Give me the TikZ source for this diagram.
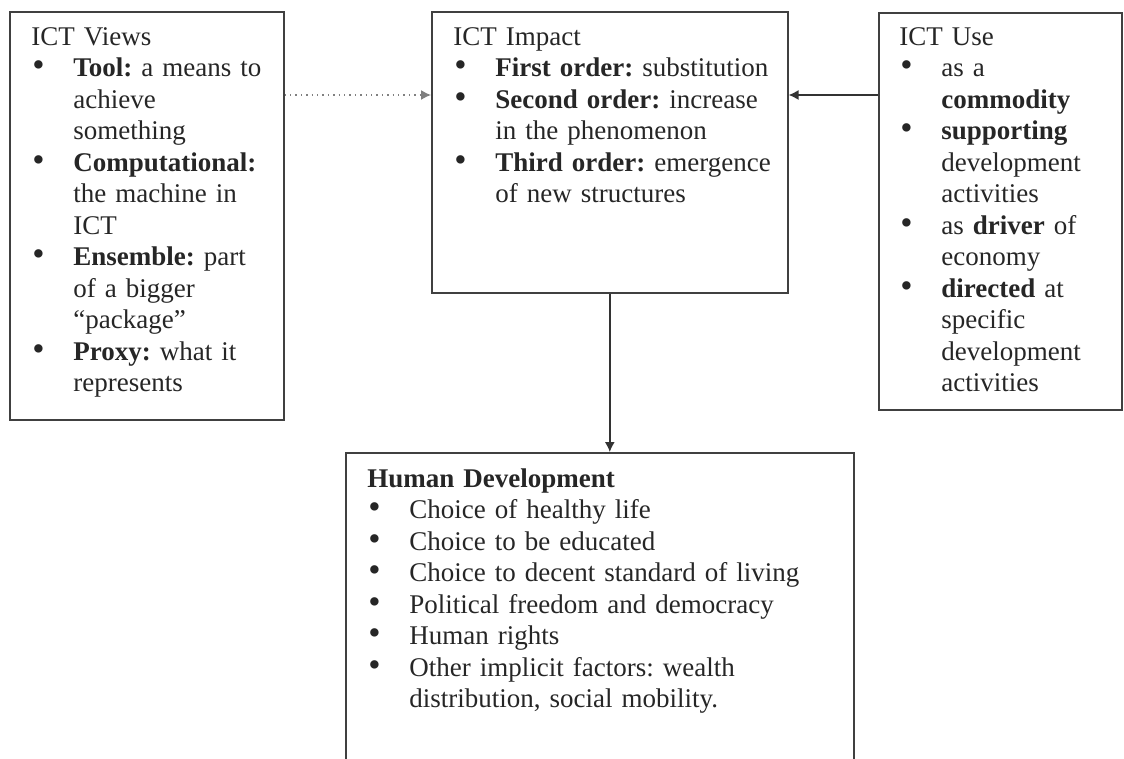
\documentclass[tikz,border=0pt]{standalone}
\usepackage{fontspec}
\setmainfont{Liberation Serif}
\usetikzlibrary{arrows,arrows.meta,positioning}

% bullet line with hanging indent, lines broken by \newline
\newcommand{\bitem}[1]{\par\noindent\hangindent=21pt\hangafter=1\makebox[21pt][l]{\hspace{0.5pt}\scalebox{1.3}{\textbullet}}#1}

\begin{document}
\begin{tikzpicture}[x=0.5pt,y=-0.5pt]
\tikzset{
    mybox/.style={rectangle, draw=black!75, line width=0.8pt, anchor=north west, inner sep=0pt},
    mytext/.style={anchor=north west, inner sep=0pt, text width=240pt, text=black!85, font=\fontsize{13.5}{15.75}\selectfont\frenchspacing\raggedright},
    myarrow/.style={-{Latex[length=5pt,width=5pt]}, line width=0.7pt, draw=black!80},
    mydots/.style={myarrow, dotted, draw=gray}
}
\clip (0,0) rectangle (1124,759);

\node[mybox, minimum width=137pt, minimum height=204pt] (views) at (9,11) {};
\node[mybox, minimum width=178pt, minimum height=140.5pt] (impact) at (431,11) {};
\node[mybox, minimum width=121.5pt, minimum height=198.5pt] (use) at (878,12) {};
\node[mybox, minimum width=254pt, minimum height=200pt] (humandev) at (345,452) {};

\node[mytext] (viewstext) at ([xshift=11pt,yshift=-8pt]views.north west) {ICT Views
  \bitem{\textbf{Tool:} a means to\newline achieve\newline something}
  \bitem{\textbf{Computational:}\newline the machine in\newline ICT}
  \bitem{\textbf{Ensemble:} part\newline of a bigger\newline “package”}
  \bitem{\textbf{Proxy:} what it\newline represents}\par};

\node[mytext] (impacttext) at ([xshift=11pt,yshift=-8pt]impact.north west) {ICT Impact
  \bitem{\textbf{First order:} substitution}
  \bitem{\textbf{Second order:} increase\newline in the phenomenon}
  \bitem{\textbf{Third order:} emergence\newline of new structures}\par};

\node[mytext] (usetext) at ([xshift=10.5pt,yshift=-7.5pt]use.north west) {ICT Use
  \bitem{as a\newline \textbf{commodity}}
  \bitem{\textbf{supporting}\newline development\newline activities}
  \bitem{as \textbf{driver} of\newline economy}
  \bitem{\textbf{directed} at\newline specific\newline development\newline activities}\par};

\node[mytext] (humandevtext) at ([xshift=11pt,yshift=-8pt]humandev.north west) {\textbf{Human Development}
  \bitem{Choice of healthy life}
  \bitem{Choice to be educated}
  \bitem{Choice to decent standard of living}
  \bitem{Political freedom and democracy}
  \bitem{Human rights}
  \bitem{Other implicit factors: wealth\newline distribution, social mobility.}\par};

\draw[mydots] ([yshift=-42pt]views.north east) -- ([yshift=-42pt]impact.north west);
\draw[myarrow] ([yshift=-41.5pt]use.north west) -- ([yshift=-42pt]impact.north east);
\draw[myarrow] (impact.south) -- (impact.south |- humandev.north);

\end{tikzpicture}
\end{document}
